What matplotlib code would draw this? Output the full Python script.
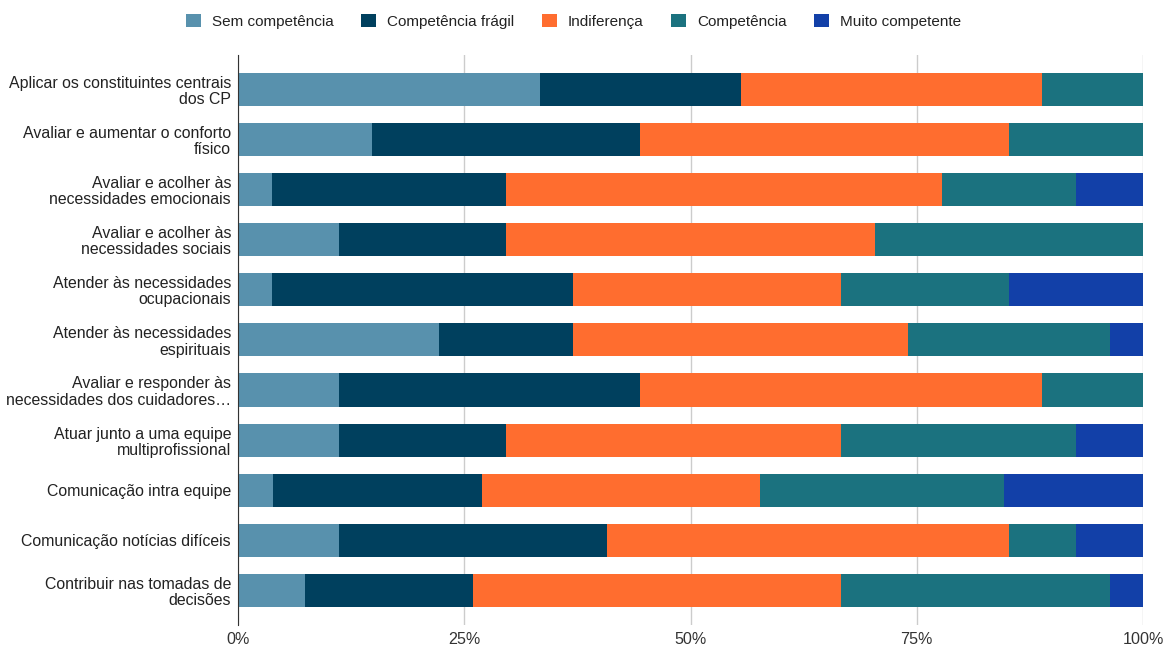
import numpy as np
import matplotlib.pyplot as plt
from matplotlib.ticker import PercentFormatter

plt.rcParams['font.family'] = ['Liberation Sans', 'DejaVu Sans']

categories = [
    'Aplicar os constituintes centrais\ndos CP',
    'Avaliar e aumentar o conforto\nfísico',
    'Avaliar e acolher às\nnecessidades emocionais',
    'Avaliar e acolher às\nnecessidades sociais',
    'Atender às necessidades\nocupacionais',
    'Atender às necessidades\nespirituais',
    'Avaliar e responder às\nnecessidades dos cuidadores…',
    'Atuar junto a uma equipe\nmultiprofissional',
    'Comunicação intra equipe',
    'Comunicação notícias difíceis',
    'Contribuir nas tomadas de\ndecisões',
]

# respostas por nível de competência
sem_competencia = [9, 4, 1, 3, 1, 6, 3, 3, 1, 3, 2]
competencia_fragil = [6, 8, 7, 5, 9, 4, 9, 5, 6, 8, 5]
indiferenca = [9, 11, 13, 11, 8, 10, 12, 10, 8, 12, 11]
competencia = [3, 4, 4, 8, 5, 6, 3, 7, 7, 2, 8]
muito_competente = [0, 0, 2, 0, 4, 1, 0, 2, 4, 2, 1]

series_names = ['Sem competência', 'Competência frágil', 'Indiferença',
                'Competência', 'Muito competente']
colors = ['#5891AD', '#00405E', '#FF6D2F', '#1B727F', '#1240A8']

counts = np.array([sem_competencia, competencia_fragil, indiferenca,
                   competencia, muito_competente], dtype=float)
pct = counts / counts.sum(axis=0) * 100

fig = plt.figure(figsize=(11.64, 6.48), dpi=100)
ax = fig.add_axes([0.2045, 0.0355, 0.7775, 0.88])

y = np.arange(len(categories))
left = np.zeros(len(categories))
for name, vals, c in zip(series_names, pct, colors):
    ax.barh(y, vals, left=left, height=0.66, color=c, label=name, zorder=3)
    left += vals

ax.set_xlim(0, 100)
ax.set_ylim(10.69, -0.69)
ax.set_xticks([0, 25, 50, 75, 100])
ax.xaxis.set_major_formatter(PercentFormatter(decimals=0))
ax.set_yticks(y)
ax.set_yticklabels(categories, fontsize=11.4, color='#222222', linespacing=1.1)
ax.tick_params(axis='both', length=0)
ax.tick_params(axis='x', labelsize=11.6, labelcolor='#333333', pad=5)
ax.tick_params(axis='y', pad=5)
ax.grid(axis='x', color='#cccccc', linewidth=1, zorder=0)
for s in ['top', 'right', 'bottom']:
    ax.spines[s].set_visible(False)
ax.spines['left'].set_color('#333333')
ax.spines['left'].set_zorder(4)

fig.legend(loc='upper center', bbox_to_anchor=(0.4927, 1.0), ncol=5, frameon=False,
           fontsize=11, handlelength=1.0, handleheight=1.0, columnspacing=1.8,
           handletextpad=0.7, labelcolor='#222222')

fig.savefig('out.png', dpi=100)
